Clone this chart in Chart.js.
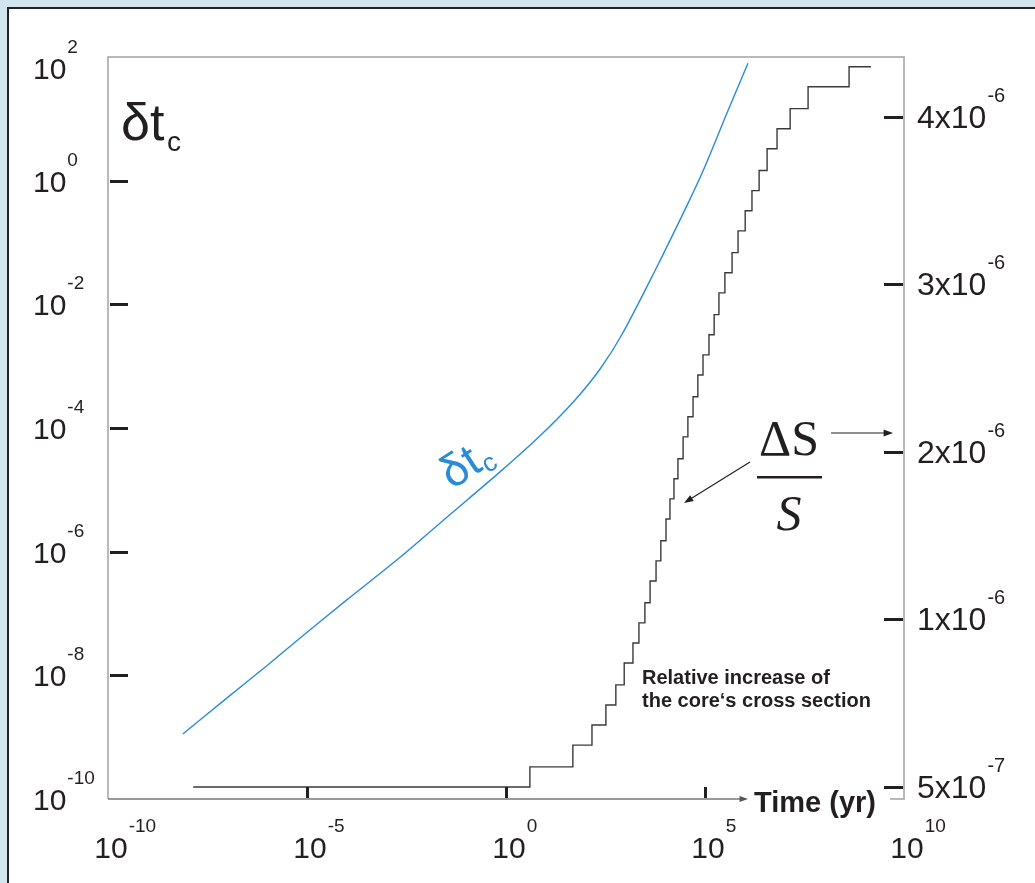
<!DOCTYPE html>
<html>
<head>
<meta charset="utf-8">
<script src="https://cdn.jsdelivr.net/npm/chart.js@4.4.0/dist/chart.umd.min.js"></script>
<style>
    html, body { margin: 0; padding: 0; background: #d0e5ee; }
    #wrap { position: relative; width: 1035px; height: 883px; }
</style>
</head>
<body>
<div id="wrap"><canvas id="coreChart" width="1035" height="883"></canvas></div>
<script>
// delta t_c curve (exponents of ten)
const dtTimeExp  = [-8.12, -7.0, -6.0, -5.18, -4.0, -2.66, -1.5, -0.15, 0.85, 1.73, 2.36, 2.92, 3.74, 4.60, 4.98, 5.55, 6.08];
const dtValueExp = [-8.95, -8.36, -7.84, -7.40, -6.78, -6.09, -5.45, -4.71, -4.13, -3.55, -3.05, -2.48, -1.46, -0.33, 0.20, 1.09, 1.90];

// staircase dS/S: time exponents and values in units of 1e-6
const stepTimeExp = [-7.86, 0.60, 1.68, 2.16, 2.51, 2.76, 2.97, 3.19, 3.34, 3.49, 3.62, 3.77, 3.89, 4.02, 4.12,
    4.22, 4.32, 4.45, 4.57, 4.70, 4.82, 4.95, 5.10, 5.23, 5.35, 5.50, 5.68, 5.83, 6.01, 6.18, 6.36, 6.56, 6.81,
    7.14, 7.59, 8.62, 9.17];
const stepValue = [0, 0.12, 0.25, 0.37, 0.49, 0.61, 0.74, 0.86, 0.98, 1.10, 1.23, 1.35, 1.47, 1.60, 1.72,
    1.84, 1.96, 2.09, 2.21, 2.33, 2.46, 2.58, 2.70, 2.82, 2.95, 3.07, 3.19, 3.32, 3.44, 3.56, 3.68, 3.81, 3.93,
    4.05, 4.18, 4.30, 4.30];

// tick labels
const timeTickExp = [-10, -5, 0, 5, 10];
const dtTickExp = [2, 0, -2, -4, -6, -8, -10];
const rightTickValues = [0, 1, 2, 3, 4];
const rightTickLabels = [['5x10', '-7'], ['1x10', '-6'], ['2x10', '-6'], ['3x10', '-6'], ['4x10', '-6']];

const INK = '#231f20';
const FRAME = '#a3a3a3';
const BLUE = '#2a8bd6';

function drawPower(ctx, base, exp, x, midY, align, size) {
    size = size || 30;
    ctx.font = size + 'px "Liberation Sans", Arial, sans-serif';
    ctx.textBaseline = 'alphabetic';
    ctx.textAlign = 'left';
    const w = ctx.measureText(base).width;
    const left = align === 'center' ? x - w / 2 : x;
    const baseLine = midY + 11;
    ctx.fillText(base, left, baseLine);
    ctx.font = Math.round(size * 0.63) + 'px "Liberation Sans", Arial, sans-serif';
    ctx.fillText(exp, left + w + 1, baseLine - 26);
}

function arrow(ctx, x1, y1, x2, y2, size) {
    const a = Math.atan2(y2 - y1, x2 - x1);
    ctx.beginPath();
    ctx.moveTo(x1, y1);
    ctx.lineTo(x2 - Math.cos(a) * size * 0.8, y2 - Math.sin(a) * size * 0.8);
    ctx.stroke();
    ctx.beginPath();
    ctx.moveTo(x2, y2);
    ctx.lineTo(x2 - Math.cos(a - 0.35) * size, y2 - Math.sin(a - 0.35) * size);
    ctx.lineTo(x2 - Math.cos(a + 0.35) * size, y2 - Math.sin(a + 0.35) * size);
    ctx.closePath();
    ctx.fill();
}

// panel background
const panelPlugin = {
    id: 'panel',
    beforeDraw(chart) {
        const ctx = chart.ctx;
        ctx.save();
        ctx.fillStyle = '#d0e5ee';
        ctx.fillRect(0, 0, chart.width, chart.height);
        ctx.fillStyle = '#ffffff';
        ctx.fillRect(9, 9, chart.width - 9, chart.height - 9);
        ctx.strokeStyle = '#222';
        ctx.lineWidth = 2;
        ctx.beginPath();
        ctx.moveTo(8, chart.height);
        ctx.lineTo(8, 8);
        ctx.lineTo(chart.width, 8);
        ctx.stroke();
        ctx.restore();
    }
};

// frame, inward ticks, power labels and annotations
const axesPlugin = {
    id: 'axesDecor',
    afterDatasetsDraw(chart) {
        const ctx = chart.ctx;
        const a = chart.chartArea;
        const xs = chart.scales.x, ys = chart.scales.y, y2 = chart.scales.y2;
        ctx.save();

        // frame
        ctx.strokeStyle = FRAME;
        ctx.fillStyle = FRAME;
        ctx.lineWidth = 1.5;
        ctx.beginPath();
        ctx.moveTo(a.left, a.bottom);
        ctx.lineTo(a.left, a.top);
        ctx.lineTo(a.right, a.top);
        ctx.lineTo(a.right, a.bottom);
        ctx.lineTo(a.right - 14, a.bottom);
        ctx.stroke();
        ctx.strokeStyle = '#777';
        ctx.fillStyle = '#555';
        arrow(ctx, a.left, a.bottom, 748, a.bottom, 9);

        // ticks
        ctx.strokeStyle = INK;
        ctx.lineWidth = 3;
        ctx.beginPath();
        dtTickExp.forEach(e => {
            if (e === 2 || e === -10) return;
            const y = Math.round(ys.getPixelForValue(Math.pow(10, e))) + 0.5;
            ctx.moveTo(a.left + 2, y);
            ctx.lineTo(a.left + 20, y);
        });
        timeTickExp.forEach(e => {
            if (e === -10 || e === 10) return;
            const x = Math.round(xs.getPixelForValue(Math.pow(10, e))) + 0.5;
            ctx.moveTo(x, a.bottom - 1);
            ctx.lineTo(x, a.bottom - 12);
        });
        rightTickValues.forEach(v => {
            const y = Math.round(y2.getPixelForValue(v)) + 0.5;
            ctx.moveTo(a.right - 20, y);
            ctx.lineTo(a.right - 1, y);
        });
        ctx.stroke();

        // labels (kept inside the panel at the top end of the axis)
        ctx.fillStyle = INK;
        dtTickExp.forEach(e => {
            const y = Math.max(ys.getPixelForValue(Math.pow(10, e)), a.top + 11);
            drawPower(ctx, '10', String(e), 33, y, 'left');
        });
        timeTickExp.forEach(e => {
            drawPower(ctx, '10', String(e), xs.getPixelForValue(Math.pow(10, e)) + 3, 847, 'center');
        });
        rightTickValues.forEach((v, i) => {
            drawPower(ctx, rightTickLabels[i][0], rightTickLabels[i][1], 917, y2.getPixelForValue(v), 'left', 32);
        });

        // axis title
        ctx.font = 'bold 29px "Liberation Sans", Arial, sans-serif';
        ctx.textAlign = 'left';
        ctx.fillText('Time (yr)', 754, 812);

        // delta t_c in the corner
        ctx.font = '52px "Liberation Sans", Arial, sans-serif';
        ctx.fillText('δt', 121, 140);
        ctx.font = '28px "Liberation Sans", Arial, sans-serif';
        ctx.fillText('c', 167, 151);

        // blue label along the curve
        ctx.save();
        ctx.translate(452, 490);
        ctx.rotate(-33 * Math.PI / 180);
        ctx.fillStyle = BLUE;
        ctx.font = '46px "Liberation Sans", Arial, sans-serif';
        ctx.fillText('δt', 0, 0);
        const w = ctx.measureText('δt').width;
        ctx.font = '26px "Liberation Sans", Arial, sans-serif';
        ctx.fillText('c', w + 1, 6);
        ctx.restore();

        // dS/S annotation
        ctx.font = '50px "Liberation Serif", "Times New Roman", serif';
        ctx.textAlign = 'center';
        ctx.fillText('ΔS', 789, 455);
        ctx.font = 'italic 50px "Liberation Serif", "Times New Roman", serif';
        ctx.fillText('S', 789, 530);
        ctx.fillRect(757, 476, 65, 2.5);
        ctx.strokeStyle = INK;
        ctx.lineWidth = 1.2;
        arrow(ctx, 831, 433, 893, 433, 10);
        arrow(ctx, 750, 462, 684, 503, 10);

        ctx.textAlign = 'left';
        ctx.font = 'bold 20px "Liberation Sans", Arial, sans-serif';
        ctx.fillText('Relative increase of', 642, 684);
        ctx.fillText('the core\u2018s cross section', 642, 707);

        ctx.restore();
    }
};

const dtPoints = dtTimeExp.map((e, i) => ({ x: Math.pow(10, e), y: Math.pow(10, dtValueExp[i]) }));
const stepPoints = stepTimeExp.map((e, i) => ({ x: Math.pow(10, e), y: stepValue[i] }));

new Chart(document.getElementById('coreChart'), {
    type: 'scatter',
    data: {
        datasets: [
            {
                label: 'δtc',
                data: dtPoints,
                showLine: true,
                borderColor: BLUE,
                borderWidth: 1.4,
                pointRadius: 0,
                tension: 0.3,
                yAxisID: 'y'
            },
            {
                label: 'ΔS/S',
                data: stepPoints,
                showLine: true,
                stepped: true,
                borderColor: '#3a3a3a',
                borderWidth: 1.4,
                pointRadius: 0,
                yAxisID: 'y2'
            }
        ]
    },
    options: {
        responsive: false,
        animation: false,
        devicePixelRatio: 1,
        layout: { padding: { left: 108, right: 131, top: 57, bottom: 84 } },
        plugins: {
            legend: { display: false },
            tooltip: { enabled: false }
        },
        scales: {
            x: { type: 'logarithmic', min: 1e-10, max: 1e10, display: false },
            y: { type: 'logarithmic', min: 1e-10, max: 1e2, display: false },
            y2: { type: 'linear', min: -0.0716, max: 4.358, display: false }
        }
    },
    plugins: [panelPlugin, axesPlugin]
});
</script>
</body>
</html>
